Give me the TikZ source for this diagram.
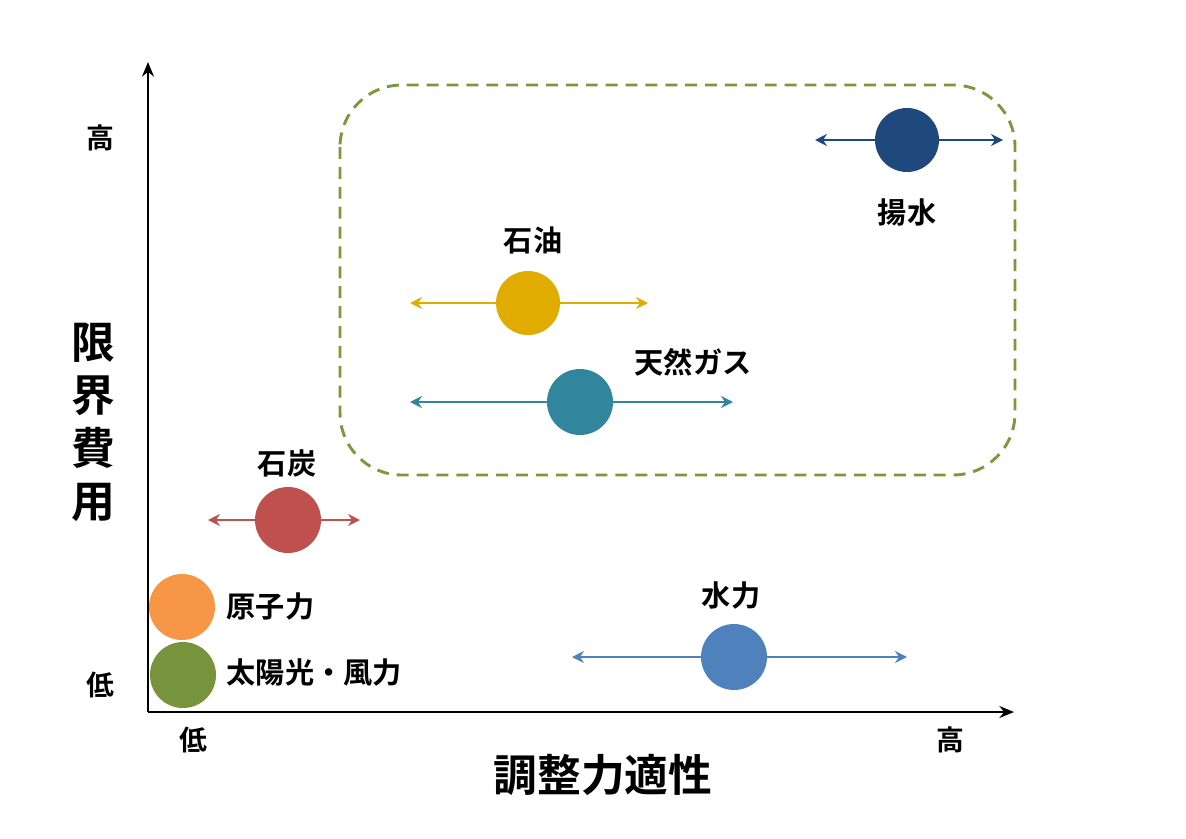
\documentclass[tikz,border=0pt]{standalone}
\usepackage{fontspec}
\setmainfont{Noto Sans CJK JP}[BoldFont={* Bold}]
\usetikzlibrary{arrows.meta}
\definecolor{cPump}{HTML}{1F497D}
\definecolor{cOil}{HTML}{E0AC00}
\definecolor{cGas}{HTML}{31859C}
\definecolor{cCoal}{HTML}{C0504D}
\definecolor{cNuc}{HTML}{F79646}
\definecolor{cSol}{HTML}{77933C}
\definecolor{cHyd}{HTML}{4F81BD}
\definecolor{cBox}{HTML}{7A9A3A}
\tikzset{
 dot/.style={circle,inner sep=0pt,minimum size=66\pxu},
 lbl/.style={font=\bfseries\fontsize{22}{26}\selectfont},
 tick/.style={font=\bfseries\fontsize{21}{24}\selectfont},
 big/.style={font=\bfseries\fontsize{33}{40}\selectfont},
 rng/.style={line width=2pt,{Stealth[length=9pt,width=9pt]}-{Stealth[length=9pt,width=9pt]}},
 ax/.style={line width=2.2pt,-{Stealth[length=11pt,width=9pt]}}
}
\newlength{\pxu}\setlength{\pxu}{0.0265cm}
\begin{document}
\begin{tikzpicture}[x=0.0265cm,y=-0.0265cm]
\useasboundingbox (0,0) rectangle (1186,838);
\coordinate (o) at (148,712);
\coordinate (yt) at (148,62);
\coordinate (xt) at (1014,712);
\draw[ax] (o) -- (yt);
\draw[ax] (o) -- (xt);
\node[tick] (yh) at (100,138) {高};
\node[tick] (yl) at (100,685) {低};
\node[tick] (xl) at (193,740) {低};
\node[tick] (xh) at (950,740) {高};
\node[big,align=center,inner sep=0pt] (ylab) at (93,422) {限\\界\\費\\用};
\node[big] (xlab) at (603,775) {調整力適性};
\draw[cBox,line width=2.2pt,dash pattern=on 9pt off 6pt,rounded corners=62\pxu] (340,85) rectangle (1015,475);
% pumped
\coordinate (pa) at (815,140); \coordinate (pb) at (1003,140);
\draw[rng,cPump] (pa) -- (pb);
\node[dot,fill=cPump,minimum size=64\pxu] (pump) at (907,140) {};
\node[lbl] (pumpl) at (907,212) {揚水};
% oil
\coordinate (oa) at (410,303); \coordinate (ob) at (648,303);
\draw[rng,cOil] (oa) -- (ob);
\node[dot,fill=cOil,minimum size=64\pxu] (oil) at (528,303) {};
\node[lbl] (oill) at (533,240) {石油};
% gas
\coordinate (ga) at (410,402); \coordinate (gb) at (733,402);
\draw[rng,cGas] (ga) -- (gb);
\node[dot,fill=cGas] (gas) at (580,402) {};
\node[lbl] (gasl) at (693,362) {天然ガス};
% coal
\coordinate (ca) at (208,520); \coordinate (cb) at (360,520);
\draw[rng,cCoal] (ca) -- (cb);
\node[dot,fill=cCoal] (coal) at (288,520) {};
\node[lbl] (coall) at (287,463) {石炭};
% nuclear, solar
\node[dot,fill=cNuc] (nuc) at (182,607) {};
\node[lbl,anchor=west] (nucl) at (222,607) {原子力};
\node[dot,fill=cSol] (sol) at (183,675) {};
\node[lbl,anchor=west] (soll) at (222,672) {太陽光・風力};
% hydro
\coordinate (ha) at (572,657); \coordinate (hb) at (907,657);
\draw[rng,cHyd] (ha) -- (hb);
\node[dot,fill=cHyd] (hyd) at (734,657) {};
\node[lbl] (hydl) at (731,595) {水力};
\end{tikzpicture}
\end{document}
